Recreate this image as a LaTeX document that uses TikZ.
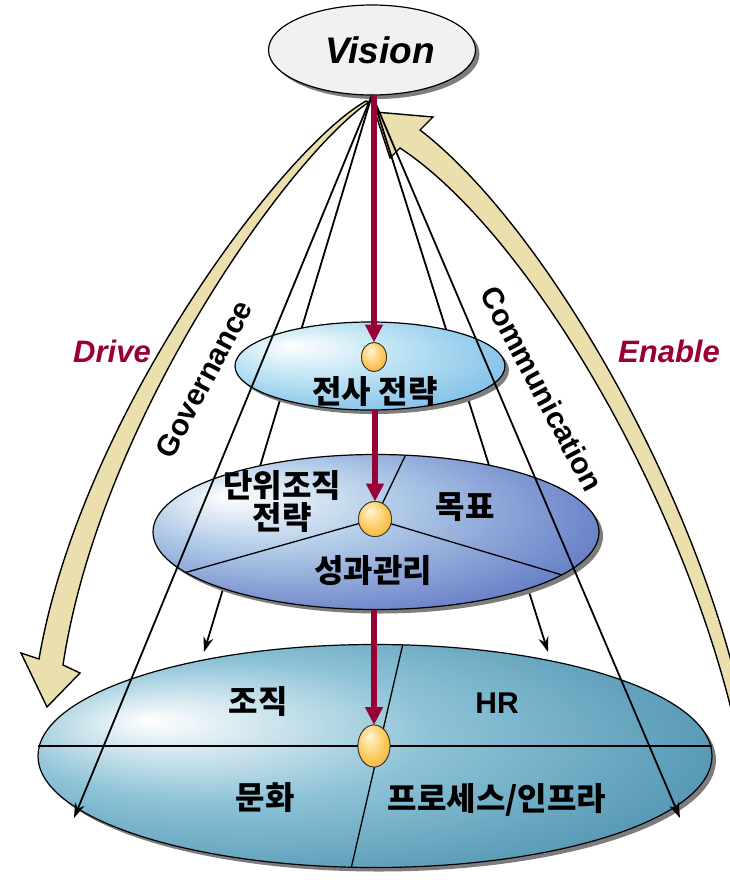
\documentclass[tikz,border=0pt]{standalone}
\usepackage{fontspec}
\setmainfont{Liberation Sans}
\newfontfamily\kr{Noto Sans CJK KR}
\usetikzlibrary{arrows.meta,shapes.geometric,shadows}
\definecolor{wine}{RGB}{153,0,51}
\definecolor{tan0}{RGB}{236,223,174}
\definecolor{vgrey}{RGB}{241,241,241}
\definecolor{sgrey}{RGB}{125,125,125}
\definecolor{lv1mid}{RGB}{196,230,244}
\definecolor{lv1out}{RGB}{104,178,228}
\definecolor{lv2mid}{RGB}{178,204,232}
\definecolor{lv2out}{RGB}{74,96,186}
\definecolor{lv3mid}{RGB}{140,194,214}
\definecolor{lv3out}{RGB}{60,132,164}
\definecolor{orblight}{RGB}{255,246,215}
\definecolor{orbmid}{RGB}{252,200,90}
\definecolor{orbdark}{RGB}{232,148,30}
\pgfdeclareradialshading{lv1shade}{\pgfpoint{-15bp}{12bp}}{color(0bp)=(white); color(14bp)=(lv1mid); color(40bp)=(lv1out); color(50bp)=(lv1out)}
\pgfdeclareradialshading{lv2shade}{\pgfpoint{-17bp}{12bp}}{color(0bp)=(white); color(14bp)=(lv2mid); color(40bp)=(lv2out); color(50bp)=(lv2out)}
\pgfdeclareradialshading{lv3shade}{\pgfpoint{-17bp}{8bp}}{color(0bp)=(white); color(16bp)=(lv3mid); color(40bp)=(lv3out); color(50bp)=(lv3out)}
\pgfdeclareradialshading{orbshade}{\pgfpoint{-8bp}{12bp}}{color(0bp)=(orblight); color(22bp)=(orbmid); color(50bp)=(orbdark)}
\tikzset{
  level/.style={ellipse,draw=black,line width=1.2pt,inner sep=0pt,outer sep=0pt,shade,
    drop shadow={shadow xshift=4pt,shadow yshift=-4pt,fill=sgrey,opacity=1}},
  visbox/.style={level,shade=false,fill=vgrey,minimum width=207pt,minimum height=90pt},
  orb/.style={ellipse,draw=black!80,line width=0.8pt,shading=orbshade,inner sep=0pt,outer sep=0pt},
  redarrow/.style={wine,line width=6pt,-{Triangle[length=18pt,width=17pt]}},
  ray/.style={line width=1.8pt,-{Stealth[length=15pt,width=10pt]}},
  divide/.style={line width=1.3pt},
  bigarrow/.style={fill=tan0,draw=black,line width=1.4pt},
  krtext/.style={font=\kr\bfseries\fontsize{32}{32}\selectfont,align=center},
  hrtext/.style={font=\bfseries\fontsize{30}{31}\selectfont},
  vistext/.style={font=\bfseries\itshape\fontsize{37}{40}\selectfont},
  sidetext/.style={font=\bfseries\itshape\fontsize{31}{33}\selectfont,text=wine},
  pathtext/.style={font=\bfseries\fontsize{30}{32}\selectfont}
}
\begin{document}
\begin{tikzpicture}[x=1pt,y=-1pt]
\useasboundingbox (0,0) rectangle (729,883);
\draw[bigarrow] (366,101) .. controls (280,150) and (80,420) .. (39,659) -- (21,653) -- (47,707) -- (80,673) -- (63,665) .. controls (100,420) and (290,155) .. (369,102) -- cycle;
\draw[bigarrow] (375,112) -- (433,117) -- (420,130) .. controls (540,222) and (692,480) .. (742,705) -- (735,725) .. controls (680,490) and (525,230) .. (400,148) -- (390,158) -- cycle;
\node[visbox] (vis) at (372,50) {};
\node[vistext] at ([xshift=8pt]vis.center) {Vision};
\coordinate (t1) at (74,818);
\coordinate (t2) at (204,652);
\coordinate (t3) at (548,652);
\coordinate (t4) at (680,818);
\draw[ray] (vis.south) -- (t2);
\draw[ray] (vis.south) -- (t3);
\node[level,shading=lv3shade,minimum width=674pt,minimum height=223pt] (lv3) at (375,756) {};
\node[level,shading=lv2shade,minimum width=446pt,minimum height=155pt] (lv2) at (376,532) {};
\node[level,shading=lv1shade,minimum width=270pt,minimum height=88pt] (lv1) at (370,366) {};
\draw[ray] (vis.south) -- (t1);
\draw[ray] (vis.south) -- (t4);
\node[orb,minimum width=25pt,minimum height=29pt] (orb1) at (374,357) {};
\node[orb,minimum width=33pt,minimum height=35pt] (orb2) at (375,519) {};
\node[orb,minimum width=32pt,minimum height=42pt] (orb3) at (374,746) {};
\draw[divide] (orb2.center) -- (lv2.69);
\draw[divide] (orb2.center) -- (lv2.192);
\draw[divide] (orb2.center) -- (lv2.347);
\draw[divide] (lv3.west |- orb3.center) -- (lv3.east |- orb3.center);
\draw[divide] (lv3.76) -- (lv3.258);
\draw[redarrow] (orb1 |- vis.south) -- (orb1.north);
\draw[redarrow] (orb2 |- lv1.south) -- (orb2.north);
\draw[redarrow] (orb3 |- lv2.south) -- (orb3.north);
\node[orb,minimum width=25pt,minimum height=29pt] at (orb1) {};
\node[orb,minimum width=33pt,minimum height=35pt] at (orb2) {};
\node[orb,minimum width=32pt,minimum height=42pt] at (orb3) {};
\node[krtext] at (375,392) {전사 전략};
\node[krtext] at (282,502) {단위조직\\전략};
\node[krtext] at (465,507) {목표};
\node[krtext] at (373,571) {성과관리};
\node[krtext] at (258,702) {조직};
\node[hrtext] at (497,703) {HR};
\node[krtext] at (265,798) {문화};
\node[krtext] at (497,800) {프로세스/인프라};
\node[sidetext] at (112,351) {Drive};
\node[sidetext] at (669,351) {Enable};
\node[pathtext,rotate=62] at (204,379) {Governance};
\node[pathtext,rotate=-62] at (542,389) {Communication};
\end{tikzpicture}
\end{document}
